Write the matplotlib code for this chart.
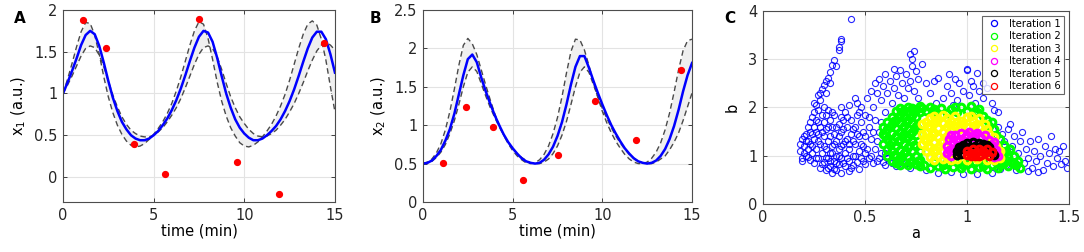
import numpy as np
import matplotlib
matplotlib.use("Agg")
import matplotlib.pyplot as plt

# time grid (min) for the model curves
t = np.linspace(0, 15, 61)

# panel A: x1 mean and the two bound curves
x1_mean = [1.00, 1.13, 1.27, 1.42, 1.58, 1.70, 1.75, 1.71, 1.57, 1.37, 1.15, 0.95, 0.79, 0.66, 0.57, 0.50,
           0.46, 0.44, 0.44, 0.46, 0.50, 0.55, 0.62, 0.70, 0.80, 0.92, 1.06, 1.22, 1.39, 1.55, 1.68, 1.75,
           1.73, 1.62, 1.43, 1.21, 1.00, 0.83, 0.69, 0.59, 0.52, 0.47, 0.44, 0.44, 0.46, 0.50, 0.55, 0.61,
           0.69, 0.79, 0.91, 1.05, 1.21, 1.38, 1.54, 1.67, 1.74, 1.74, 1.65, 1.47, 1.25]
x1_hi = [1.00, 1.17, 1.36, 1.56, 1.74, 1.85, 1.84, 1.70, 1.47, 1.20, 0.96, 0.77, 0.62, 0.51, 0.43, 0.38,
         0.36, 0.37, 0.40, 0.45, 0.51, 0.58, 0.66, 0.76, 0.88, 1.03, 1.20, 1.39, 1.58, 1.75, 1.86, 1.83,
         1.66, 1.41, 1.14, 0.91, 0.73, 0.59, 0.49, 0.41, 0.37, 0.36, 0.38, 0.42, 0.48, 0.55, 0.63, 0.73,
         0.85, 0.99, 1.16, 1.35, 1.54, 1.71, 1.83, 1.87, 1.82, 1.65, 1.40, 1.08, 0.78]
x1_lo = [1.00, 1.10, 1.21, 1.33, 1.45, 1.54, 1.57, 1.55, 1.46, 1.32, 1.15, 0.98, 0.84, 0.72, 0.63, 0.56,
         0.52, 0.49, 0.48, 0.48, 0.50, 0.54, 0.59, 0.66, 0.74, 0.83, 0.94, 1.07, 1.21, 1.35, 1.47, 1.55,
         1.57, 1.54, 1.44, 1.29, 1.12, 0.96, 0.83, 0.72, 0.64, 0.57, 0.52, 0.49, 0.48, 0.49, 0.52, 0.56,
         0.62, 0.69, 0.78, 0.88, 1.00, 1.13, 1.27, 1.40, 1.51, 1.58, 1.61, 1.58, 1.52]

# panel B: x2 mean and bounds
x2_mean = [0.50, 0.51, 0.54, 0.60, 0.68, 0.80, 0.95, 1.15, 1.40, 1.65, 1.86, 1.92, 1.82, 1.62, 1.44, 1.28,
           1.13, 1.00, 0.88, 0.78, 0.70, 0.63, 0.57, 0.53, 0.51, 0.50, 0.51, 0.55, 0.62, 0.72, 0.86, 1.04,
           1.27, 1.53, 1.76, 1.90, 1.90, 1.75, 1.58, 1.42, 1.27, 1.13, 1.00, 0.89, 0.79, 0.70, 0.63, 0.57,
           0.53, 0.51, 0.50, 0.51, 0.54, 0.60, 0.69, 0.82, 0.99, 1.20, 1.44, 1.65, 1.81]
x2_hi = [0.50, 0.52, 0.56, 0.64, 0.76, 0.94, 1.18, 1.47, 1.78, 2.04, 2.13, 2.06, 1.92, 1.72, 1.52, 1.33,
         1.15, 1.00, 0.87, 0.76, 0.67, 0.60, 0.55, 0.51, 0.50, 0.51, 0.55, 0.62, 0.73, 0.89, 1.10, 1.37,
         1.68, 1.96, 2.12, 2.11, 1.98, 1.78, 1.56, 1.36, 1.18, 1.03, 0.90, 0.79, 0.70, 0.62, 0.56, 0.52,
         0.50, 0.50, 0.52, 0.57, 0.65, 0.77, 0.94, 1.16, 1.43, 1.72, 1.97, 2.10, 2.12]
x2_lo = [0.50, 0.51, 0.53, 0.58, 0.65, 0.75, 0.89, 1.06, 1.27, 1.50, 1.69, 1.76, 1.70, 1.54, 1.38, 1.23,
         1.10, 0.98, 0.87, 0.78, 0.70, 0.63, 0.58, 0.54, 0.51, 0.50, 0.50, 0.52, 0.56, 0.63, 0.73, 0.87,
         1.05, 1.27, 1.50, 1.69, 1.76, 1.69, 1.53, 1.37, 1.22, 1.09, 0.97, 0.86, 0.77, 0.69, 0.62, 0.57,
         0.53, 0.51, 0.50, 0.50, 0.52, 0.56, 0.60, 0.68, 0.78, 0.90, 1.06, 1.24, 1.42]

# measured data points
t_obs = [1.1, 2.4, 3.9, 5.6, 7.5, 9.6, 11.9, 14.4]
x1_obs = [1.88, 1.55, 0.40, 0.04, 1.89, 0.18, -0.20, 1.60]
x2_obs = [0.51, 1.24, 0.975, 0.28, 0.61, 1.31, 0.81, 1.72]

# panel C: (a, b) samples per iteration
it1 = [(0.18, 1.25), (0.18, 1.1), (0.19, 0.95), (0.19, 0.9), (0.19, 1.35), (0.2, 1.2), (0.2, 1.05), (0.21, 1.45),
       (0.21, 1.3), (0.22, 1.6), (0.22, 1.15), (0.22, 0.98), (0.23, 1.7), (0.23, 1.5), (0.23, 1.25), (0.24, 1.8),
       (0.24, 1.05), (0.25, 1.9), (0.25, 1.6), (0.25, 1.35), (0.25, 0.85), (0.26, 2.05), (0.26, 1.75), (0.26, 1.15),
       (0.27, 1.95), (0.27, 1.45), (0.27, 0.95), (0.28, 2.15), (0.28, 1.6), (0.28, 1.25), (0.28, 0.75), (0.29, 1.85),
       (0.29, 1.05), (0.3, 2.0), (0.3, 1.7), (0.3, 1.4), (0.3, 0.88), (0.31, 1.55), (0.31, 1.15), (0.31, 0.7),
       (0.32, 1.95), (0.32, 1.3), (0.32, 0.95), (0.33, 1.75), (0.33, 1.05), (0.33, 0.78), (0.34, 1.6), (0.34, 1.2),
       (0.34, 0.65), (0.35, 1.85), (0.35, 1.45), (0.35, 0.9), (0.36, 1.3), (0.36, 1.0), (0.36, 0.7), (0.37, 1.65),
       (0.37, 1.15), (0.37, 0.82), (0.38, 2.0), (0.38, 1.5), (0.38, 0.95), (0.38, 0.65), (0.39, 1.75), (0.39, 1.25),
       (0.4, 1.9), (0.4, 1.05), (0.4, 0.78), (0.41, 1.6), (0.41, 1.35), (0.42, 2.05), (0.42, 1.15), (0.42, 0.9),
       (0.42, 0.68), (0.43, 1.75), (0.43, 1.45), (0.44, 1.0), (0.44, 0.8), (0.45, 2.2), (0.45, 1.6), (0.45, 1.25),
       (0.46, 1.85), (0.46, 0.88), (0.47, 1.4), (0.47, 1.1), (0.47, 0.72), (0.48, 2.0), (0.48, 1.7), (0.48, 0.95),
       (0.49, 1.5), (0.49, 1.2), (0.5, 1.85), (0.5, 0.82), (0.5, 1.05),
       (0.2, 1.4), (0.21, 1.0), (0.22, 1.3), (0.23, 0.92), (0.24, 1.45), (0.24, 1.2), (0.26, 1.5), (0.26, 0.95),
       (0.27, 1.3), (0.27, 1.7), (0.29, 1.5), (0.29, 0.82), (0.3, 1.2), (0.31, 0.95), (0.31, 1.85), (0.32, 1.6),
       (0.32, 0.75), (0.33, 1.4), (0.33, 0.9), (0.34, 1.05), (0.34, 1.9), (0.35, 1.25), (0.35, 0.72), (0.36, 1.6),
       (0.36, 0.85), (0.37, 1.4), (0.37, 1.0), (0.38, 1.8), (0.38, 1.2), (0.39, 0.85), (0.39, 1.55), (0.4, 1.3),
       (0.41, 0.95), (0.41, 1.8), (0.42, 1.25), (0.43, 0.75), (0.44, 1.55), (0.44, 1.3), (0.45, 1.0), (0.46, 1.45),
       (0.46, 2.1), (0.47, 1.9), (0.48, 1.25), (0.49, 0.9), (0.5, 1.4), (0.51, 1.15), (0.52, 1.8), (0.53, 1.0),
       (0.54, 1.5), (0.56, 1.3), (0.57, 0.95), (0.58, 1.7), (0.6, 1.05),
       (0.27, 2.25), (0.28, 2.3), (0.29, 2.38), (0.3, 2.47), (0.31, 2.55), (0.32, 2.62), (0.33, 2.74), (0.34, 2.88),
       (0.35, 2.98), (0.36, 2.85), (0.37, 3.2), (0.37, 3.25), (0.38, 3.38), (0.38, 3.42), (0.43, 3.83), (0.25, 2.1),
       (0.31, 2.3), (0.33, 2.5),
       (0.51, 2.2), (0.52, 1.6), (0.52, 0.95), (0.53, 2.35), (0.53, 1.35), (0.54, 2.0), (0.54, 0.85), (0.55, 2.5),
       (0.55, 1.75), (0.55, 1.15), (0.56, 2.3), (0.56, 0.9), (0.57, 2.6), (0.57, 1.5), (0.58, 2.15), (0.58, 1.05),
       (0.59, 2.45), (0.59, 0.88), (0.6, 2.7), (0.6, 1.9), (0.61, 2.3), (0.61, 0.95), (0.62, 2.55), (0.63, 2.1),
       (0.63, 0.85), (0.64, 2.8), (0.64, 2.4), (0.65, 2.65), (0.66, 2.25), (0.66, 0.82), (0.67, 2.78), (0.68, 2.5),
       (0.69, 2.2), (0.7, 2.7), (0.7, 0.85), (0.71, 2.4), (0.72, 3.1), (0.72, 2.55), (0.73, 3.0), (0.73, 2.85),
       (0.74, 3.18), (0.74, 2.35), (0.75, 2.75), (0.76, 2.6), (0.76, 2.2), (0.78, 2.9), (0.77, 0.8),
       (0.8, 2.5), (0.82, 2.3), (0.84, 2.55), (0.86, 2.62), (0.88, 2.2), (0.9, 2.45), (0.91, 2.7), (0.92, 2.3),
       (0.94, 2.6), (0.95, 2.15), (0.96, 2.5), (0.98, 2.35), (1.0, 2.8), (1.0, 2.78), (1.01, 2.25), (1.02, 2.55),
       (1.03, 2.45), (1.04, 2.1), (1.05, 2.72), (1.06, 2.35), (1.08, 2.2), (1.1, 2.4), (1.12, 2.1), (1.13, 1.95),
       (1.15, 1.9), (1.08, 2.5), (0.85, 2.1), (0.93, 2.05),
       (1.15, 1.6), (1.17, 1.45), (1.18, 1.3), (1.2, 1.55), (1.22, 1.2), (1.23, 1.4), (1.25, 1.05), (1.26, 1.3),
       (1.28, 0.85), (1.29, 1.15), (1.3, 0.95), (1.31, 1.3), (1.32, 0.75), (1.33, 1.1), (1.34, 0.9), (1.35, 1.35),
       (1.36, 1.0), (1.37, 0.7), (1.38, 1.2), (1.39, 0.85), (1.4, 1.05), (1.41, 1.4), (1.42, 0.78), (1.43, 1.15),
       (1.44, 0.95), (1.45, 1.1), (1.46, 0.82), (1.47, 1.2), (1.48, 0.9), (1.49, 0.75), (1.24, 0.7), (1.3, 0.68),
       (1.35, 0.66), (1.27, 1.5), (1.21, 1.65), (1.19, 0.8), (1.16, 0.72), (1.12, 0.65), (1.05, 0.62), (0.98, 0.63),
       (0.92, 0.66), (0.86, 0.64), (0.8, 0.7), (0.72, 0.75), (0.65, 0.78), (0.6, 0.8)]
it2 = [(0.59, 1.25), (0.59, 1.45), (0.59, 1.6),
       (0.61, 1.0), (0.61, 1.15), (0.61, 1.35), (0.61, 1.55), (0.61, 1.7),
       (0.63, 0.9), (0.63, 1.1), (0.63, 1.28), (0.63, 1.48), (0.63, 1.65), (0.63, 1.8),
       (0.65, 0.85), (0.65, 1.0), (0.65, 1.2), (0.65, 1.4), (0.65, 1.58), (0.65, 1.75), (0.65, 1.92),
       (0.67, 0.8), (0.67, 0.95), (0.67, 1.12), (0.67, 1.32), (0.67, 1.5), (0.67, 1.68), (0.67, 1.85), (0.67, 1.98),
       (0.69, 0.88), (0.69, 1.05), (0.69, 1.25), (0.69, 1.45), (0.69, 1.62), (0.69, 1.8), (0.69, 1.95),
       (0.71, 0.8), (0.71, 0.98), (0.71, 1.18), (0.71, 1.38), (0.71, 1.56), (0.71, 1.74), (0.71, 1.9), (0.71, 2.02),
       (0.73, 0.9), (0.73, 1.1), (0.73, 1.3), (0.73, 1.5), (0.73, 1.68), (0.73, 1.85), (0.73, 1.98),
       (0.75, 0.82), (0.75, 1.0), (0.75, 1.2), (0.75, 1.42), (0.75, 1.62), (0.75, 1.8), (0.75, 1.95),
       (0.77, 0.78), (0.77, 0.92), (0.77, 1.1), (0.77, 1.9), (0.77, 2.03),
       (0.8, 1.92), (0.82, 2.0), (0.85, 1.9), (0.87, 1.98), (0.9, 1.88), (0.92, 1.96), (0.95, 1.9), (0.97, 2.0),
       (1.0, 1.92), (1.02, 2.03), (1.04, 1.88), (1.06, 1.96), (1.08, 1.82), (1.1, 1.75), (1.11, 1.62),
       (1.13, 1.55), (1.14, 1.42), (1.16, 1.35), (1.18, 1.22), (1.17, 1.05), (1.19, 1.1), (1.2, 0.98), (1.21, 1.15),
       (1.22, 0.88), (1.23, 1.0), (1.24, 0.8), (1.26, 0.75), (1.25, 0.9), (1.18, 0.85), (1.2, 0.78),
       (0.79, 0.8), (0.82, 0.75), (0.84, 0.86), (0.86, 0.78), (0.89, 0.72), (0.9, 0.84), (0.93, 0.76), (0.95, 0.86),
       (0.97, 0.74), (1.0, 0.82), (1.02, 0.73), (1.04, 0.86), (1.06, 0.76), (1.08, 0.84), (1.1, 0.73), (1.12, 0.8),
       (1.14, 0.88), (1.15, 0.74),
       (0.6, 1.4), (0.62, 1.22), (0.62, 1.6), (0.64, 1.02), (0.64, 1.72), (0.66, 0.92), (0.66, 1.3), (0.68, 1.4),
       (0.68, 1.9), (0.7, 1.1), (0.7, 1.7), (0.72, 0.88), (0.72, 1.45), (0.74, 1.22), (0.74, 1.9), (0.76, 1.55),
       (0.76, 0.9), (0.78, 1.98), (0.84, 1.96), (0.94, 2.0), (1.05, 1.9), (1.12, 1.7), (1.19, 0.92), (1.23, 0.84),
       (0.88, 0.8), (0.98, 0.8), (1.08, 0.78), (1.16, 0.8)]
it3 = [(0.78, 1.25), (0.78, 1.45), (0.78, 1.65),
       (0.8, 1.1), (0.8, 1.3), (0.8, 1.5), (0.8, 1.7),
       (0.82, 0.98), (0.82, 1.18), (0.82, 1.38), (0.82, 1.58), (0.82, 1.78),
       (0.84, 0.92), (0.84, 1.08), (0.84, 1.28), (0.84, 1.48), (0.84, 1.68), (0.84, 1.82),
       (0.86, 1.0), (0.86, 1.18), (0.86, 1.38), (0.86, 1.58), (0.86, 1.76),
       (0.88, 0.93), (0.88, 1.1), (0.88, 1.3), (0.88, 1.5), (0.88, 1.68), (0.88, 1.84),
       (0.9, 0.98), (0.9, 1.4), (0.9, 1.6), (0.9, 1.78),
       (0.92, 0.92), (0.92, 1.55), (0.92, 1.72), (0.94, 1.62), (0.94, 1.82), (0.96, 1.55), (0.97, 1.72),
       (1.0, 1.6), (1.0, 1.8), (1.03, 1.55), (1.03, 1.72), (1.06, 1.6), (1.06, 1.78), (1.08, 1.5), (1.09, 1.65),
       (1.11, 1.45), (1.12, 1.3), (1.14, 1.2), (1.15, 1.05), (1.16, 0.95), (1.13, 0.92), (1.1, 0.92), (1.05, 0.93),
       (1.0, 0.92), (0.95, 0.94),
       (0.79, 1.35), (0.81, 1.2), (0.81, 1.62), (0.83, 1.45), (0.85, 1.12), (0.85, 1.72), (0.87, 1.28), (0.89, 1.2),
       (0.91, 1.66), (0.95, 1.7), (0.98, 1.65), (1.02, 1.82), (1.04, 1.64), (1.1, 1.56), (1.13, 1.38), (1.16, 1.1)]
it4 = [(0.9, 1.05), (0.9, 1.2), (0.91, 1.35), (0.92, 1.0), (0.93, 1.12), (0.93, 1.28), (0.94, 1.42), (0.96, 1.35),
       (0.97, 1.48), (0.99, 1.38), (1.01, 1.5), (1.03, 1.38), (1.05, 1.48), (1.07, 1.36), (1.09, 1.44), (1.11, 1.32),
       (1.12, 1.22), (1.14, 1.12), (1.15, 1.0), (1.13, 0.97), (0.95, 1.3), (0.98, 1.3),
       (0.91, 1.12), (0.92, 1.42), (1.0, 1.42), (1.04, 1.44), (1.13, 1.28), (1.14, 1.05)]
it5 = [(0.95, 1.02), (0.95, 1.1), (0.96, 1.18), (0.97, 1.03), (0.98, 1.22), (1.0, 1.26), (1.03, 1.28), (1.06, 1.27),
       (1.08, 1.25), (1.1, 1.22), (1.11, 1.18), (1.12, 1.08), (1.13, 1.01), (0.97, 1.13), (1.0, 1.18), (1.04, 1.2),
       (1.08, 1.18)]
it6 = [(1.0, 1.02), (1.0, 1.1), (1.02, 1.06), (1.03, 1.13), (1.04, 1.0), (1.05, 1.08), (1.06, 1.15), (1.07, 1.02),
       (1.08, 1.1), (1.09, 1.05), (1.1, 1.13), (1.11, 1.0), (1.12, 1.07), (1.02, 1.0), (1.06, 1.0)]
iterations = [it1, it2, it3, it4, it5, it6]
it_labels = ['Iteration 1', 'Iteration 2', 'Iteration 3', 'Iteration 4', 'Iteration 5', 'Iteration 6']
it_colors = ['#0000ff', '#00ff00', '#ffff00', '#ff00ff', '#000000', '#ff0000']

plt.rcParams['font.family'] = ['DejaVu Sans']
fig = plt.figure(figsize=(10.84, 2.52), dpi=100)


def style_axes(ax):
    ax.grid(True, color='#e3e3e3', lw=0.8)
    ax.set_axisbelow(True)
    for s in ax.spines.values():
        s.set_color('#4d4d4d')
        s.set_linewidth(0.8)
    ax.tick_params(direction='in', length=3, width=0.6, labelsize=10.5, colors='#262626',
                   top=True, right=True, pad=4)


def time_panel(ax, mean, hi, lo, obs):
    hi = np.array(hi)
    lo = np.array(lo)
    ax.fill_between(t, np.minimum(hi, lo), np.maximum(hi, lo), color='#efefef', lw=0)
    ax.plot(t, hi, '--', color='#4a4a4a', lw=1.0, dashes=(4, 2.5))
    ax.plot(t, lo, '--', color='#4a4a4a', lw=1.0, dashes=(4, 2.5))
    ax.plot(t, mean, '-', color='#0000ff', lw=1.8)
    ax.plot(t_obs, obs, 'o', color='#ff0000', ms=4.2, mec='#ff0000')
    ax.set_xlim(0, 15)
    ax.set_xticks([0, 5, 10, 15])
    ax.set_xlabel('time (min)', fontsize=10.5, labelpad=1)
    style_axes(ax)


axA = fig.add_axes([0.0581, 0.1984, 0.2509, 0.7619])
time_panel(axA, x1_mean, x1_hi, x1_lo, x1_obs)
axA.set_ylim(-0.3, 2)
axA.set_yticks([0, 0.5, 1, 1.5, 2])
axA.set_yticklabels(['0', '0.5', '1', '1.5', '2'])
axA.set_ylabel(r'x$_1$ (a.u.)', fontsize=10.5, labelpad=4)

axB = fig.add_axes([0.3902, 0.1984, 0.2482, 0.7619])
time_panel(axB, x2_mean, x2_hi, x2_lo, x2_obs)
axB.set_ylim(0, 2.5)
axB.set_yticks([0, 0.5, 1, 1.5, 2, 2.5])
axB.set_yticklabels(['0', '0.5', '1', '1.5', '2', '2.5'])
axB.set_ylabel(r'x$_2$ (a.u.)', fontsize=10.5, labelpad=4)

axC = fig.add_axes([0.7039, 0.1905, 0.2823, 0.7659])
for pts, lab, col in zip(iterations, it_labels, it_colors):
    a_vals = [p[0] for p in pts]
    b_vals = [p[1] for p in pts]
    first = lab == 'Iteration 1'
    axC.plot(a_vals, b_vals, 'o', mfc='none', mec=col, ms=4.4 if first else 4.8,
             mew=0.8 if first else 2.2, label=lab, alpha=0.85 if first else 1)
axC.set_xlim(0, 1.5)
axC.set_ylim(0, 4)
axC.set_xticks([0, 0.5, 1, 1.5])
axC.set_xticklabels(['0', '0.5', '1', '1.5'])
axC.set_yticks([0, 1, 2, 3, 4])
axC.set_xlabel('a', fontsize=10.5, labelpad=1)
axC.set_ylabel('b', fontsize=10.5, labelpad=6)
style_axes(axC)
leg = axC.legend(loc='upper right', fontsize=7.2, frameon=True, fancybox=False, borderpad=0.3,
                 labelspacing=0.25, handletextpad=0.6, handlelength=1.8, borderaxespad=0.5)
for h in leg.legend_handles:
    h.set_markeredgewidth(0.9)
    h.set_markersize(4.4)
    h.set_alpha(1)
leg.get_frame().set_edgecolor('#404040')
leg.get_frame().set_linewidth(0.8)

fig.text(0.013, 0.955, 'A', fontsize=11, fontweight='bold', va='top')
fig.text(0.341, 0.955, 'B', fontsize=11, fontweight='bold', va='top')
fig.text(0.668, 0.955, 'C', fontsize=11, fontweight='bold', va='top')

fig.savefig('out.png', dpi=100)
